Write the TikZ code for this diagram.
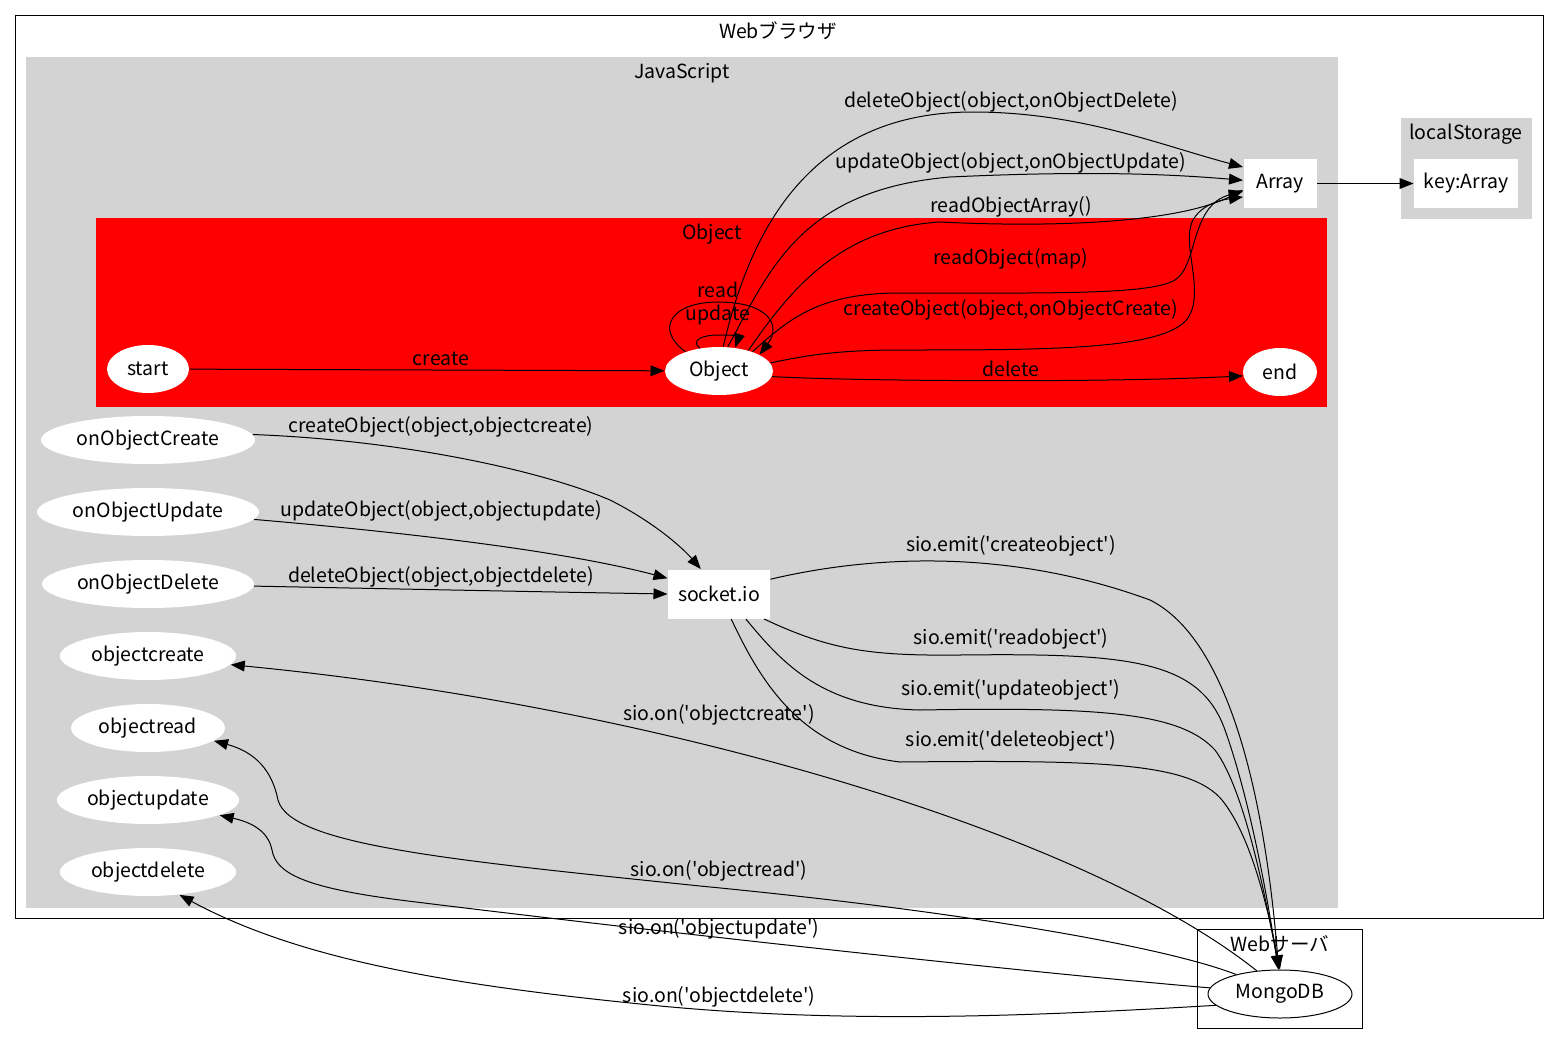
\documentclass[tikz,border=0pt]{standalone}
\usepackage{fontspec}
\usepackage{xcolor}
\usepackage{tikz}
\usetikzlibrary{shapes.geometric,arrows.meta}
\newfontfamily\gvfont{Noto Sans CJK JP}
\newcommand\gvtext{\gvfont\fontsize{9.75}{12}\selectfont}
\definecolor{clgray}{RGB}{211,211,211}

\begin{document}
\begin{tikzpicture}[x=0.5pt,y=-0.5pt,line width=0.5pt,
    oval/.style={ellipse, fill=white, inner sep=0pt, minimum height=24pt, font=\gvtext},
    box/.style={rectangle, fill=white, inner sep=0pt, minimum height=24.5pt, font=\gvtext},
    lbl/.style={inner sep=0pt, yshift=-1pt, font=\gvtext},
    flow/.style={-{Triangle[length=7pt,width=5.4pt]}}
]
\useasboundingbox (0,0) rectangle (1555,1045);
% clusters
\draw (15,15) rectangle (1543,918);
\fill[clgray] (26,57) rectangle (1338,908);
\fill[red] (96,218) rectangle (1327,407);
\fill[clgray] (1401,118) rectangle (1532,219);
\draw (1197,929) rectangle (1362,1028);
\node[lbl] (cbrowser) at (778,29) {Webブラウザ};
\node[lbl] (cjs) at (682,71) {JavaScript};
\node[lbl] (cobject) at (712,232) {Object};
\node[lbl] (cstorage) at (1466,132) {localStorage};
\node[lbl] (cserver) at (1280,942) {Webサーバ};

% nodes
\node[oval, minimum width=41pt] (start) at (148,369) {start};
\node[oval, minimum width=54pt] (obj) at (719,371) {Object};
\node[oval, minimum width=37pt] (finish) at (1280,372) {end};
\node[oval, minimum width=107pt] (oncreate) at (148,440) {onObjectCreate};
\node[oval, minimum width=111pt] (onupdate) at (148,512) {onObjectUpdate};
\node[oval, minimum width=106pt] (ondelete) at (148,584) {onObjectDelete};
\node[oval, minimum width=88pt] (ocreate) at (148,656) {objectcreate};
\node[oval, minimum width=77pt] (oread) at (148,728) {objectread};
\node[oval, minimum width=91pt] (oupdate) at (148,800) {objectupdate};
\node[oval, minimum width=88pt] (odelete) at (148,872) {objectdelete};
\node[oval, draw, minimum width=72pt] (mongo) at (1280,994) {MongoDB};
\node[box, minimum width=36.5pt] (arr) at (1280,183.5) {Array};
\node[box, minimum width=52pt] (key) at (1466,183.5) {key:Array};
\node[box, minimum width=51pt] (sock) at (719,594) {socket.io};

% Object state machine
\draw[flow] (start) -- (obj);
\draw[flow] (obj.-6) .. controls (850,381) and (1100,383) .. (finish.186);
\draw[flow] (obj.150) .. controls (655,330) and (670,302) .. (718,302) .. controls (768,302) and (782,325) .. (obj.22);
\draw[flow] (obj.130) .. controls (690,340) and (703,335) .. (718,335) .. controls (733,335) and (739,336) .. (obj.55);
\node[lbl] (lcreate) at (441,357) {create};
\node[lbl] (ldelete) at (1011,367) {delete};
\node[lbl] (lread) at (718,288) {read};
\node[lbl] (lupdate) at (718,313) {update};

% Object -> Array
\draw[flow] (obj.80) .. controls (750,230) and (810,112) .. (973,112) .. controls (1080,112) and (1160,145) .. (arr.156);
\draw[flow] (obj.70) .. controls (770,270) and (800,190) .. (950,177) .. controls (1100,170) and (1180,175) .. (arr.175);
\draw[flow] (obj.35) .. controls (790,290) and (840,228) .. (940,222) .. controls (1060,228) and (1180,222) .. (arr.190);
\draw[flow] (obj.30) .. controls (790,318) and (820,293) .. (900,293) .. controls (1050,293) and (1150,295) .. (1175,280) .. controls (1198,266) and (1190,205) .. (arr.192);
\draw[flow] (obj.9) .. controls (800,357) and (830,350) .. (900,350) .. controls (1050,350) and (1165,350) .. (1188,318) .. controls (1205,292) and (1182,245) .. (1192,222) .. controls (1200,205) and (1220,200) .. (arr.200);
\draw[flow] (arr) -- (key);
\node[lbl] (ldelobj) at (1011,100) {deleteObject(object,onObjectDelete)};
\node[lbl] (lupdobj) at (1011,161) {updateObject(object,onObjectUpdate)};
\node[lbl] (lreadarr) at (1011,205) {readObjectArray()};
\node[lbl] (lreadobj) at (1011,257) {readObject(map)};
\node[lbl] (lcreobj) at (1011,308) {createObject(object,onObjectCreate)};

% callbacks -> socket.io
\draw[flow] (oncreate.3) .. controls (400,440) and (540,470) .. (610,500) .. controls (650,520) and (680,545) .. (sock.126);
\draw[flow] (onupdate.-4) .. controls (400,532) and (560,550) .. (sock.163);
\draw[flow] (ondelete) .. controls (400,589) and (550,592) .. (sock.west);
\node[lbl] (lsockcre) at (441,425) {createObject(object,objectcreate)};
\node[lbl] (lsockupd) at (441,509) {updateObject(object,objectupdate)};
\node[lbl] (lsockdel) at (441,575) {deleteObject(object,objectdelete)};

% socket.io -> MongoDB
\draw[flow] (sock.16) .. controls (860,558) and (1000,545) .. (1150,600) .. controls (1230,640) and (1265,800) .. (mongo.93);
\draw[flow] (sock.-29) .. controls (830,650) and (870,656) .. (960,655) .. controls (1130,653) and (1200,660) .. (1225,730) .. controls (1250,800) and (1268,900) .. (mongo.94);
\draw[flow] (sock.-43) .. controls (780,660) and (820,708) .. (920,710) .. controls (1100,707) and (1180,712) .. (1215,750) .. controls (1245,790) and (1266,900) .. (mongo.92);
\draw[flow] (sock.-64) .. controls (760,680) and (800,750) .. (900,762) .. controls (1100,760) and (1190,762) .. (1222,800) .. controls (1250,835) and (1266,900) .. (mongo.90);
\node[lbl] (lemitcre) at (1011,544) {sio.emit('createobject')};
\node[lbl] (lemitread) at (1011,637) {sio.emit('readobject')};
\node[lbl] (lemitupd) at (1011,688) {sio.emit('updateobject')};
\node[lbl] (lemitdel) at (1011,739) {sio.emit('deleteobject')};

% MongoDB -> events
\draw[flow] (mongo.135) .. controls (1080,830) and (650,705) .. (ocreate.-6);
\draw[flow] (mongo.156) .. controls (1160,945) and (950,910) .. (700,886) .. controls (450,860) and (290,845) .. (278,800) .. controls (272,770) and (255,752) .. (oread.-11);
\draw[flow] (mongo.175) .. controls (1000,970) and (600,925) .. (400,900) .. controls (300,887) and (276,872) .. (272,850) .. controls (268,830) and (250,822) .. (oupdate.-12);
\draw[flow] (mongo.190) .. controls (1050,1015) and (850,1025) .. (650,1005) .. controls (450,985) and (300,960) .. (odelete.-36);
\node[lbl] (loncre) at (719,713) {sio.on('objectcreate')};
\node[lbl] (lonread) at (719,869) {sio.on('objectread')};
\node[lbl] (lonupd) at (719,927) {sio.on('objectupdate')};
\node[lbl] (londel) at (719,995) {sio.on('objectdelete')};
\end{tikzpicture}
\end{document}
